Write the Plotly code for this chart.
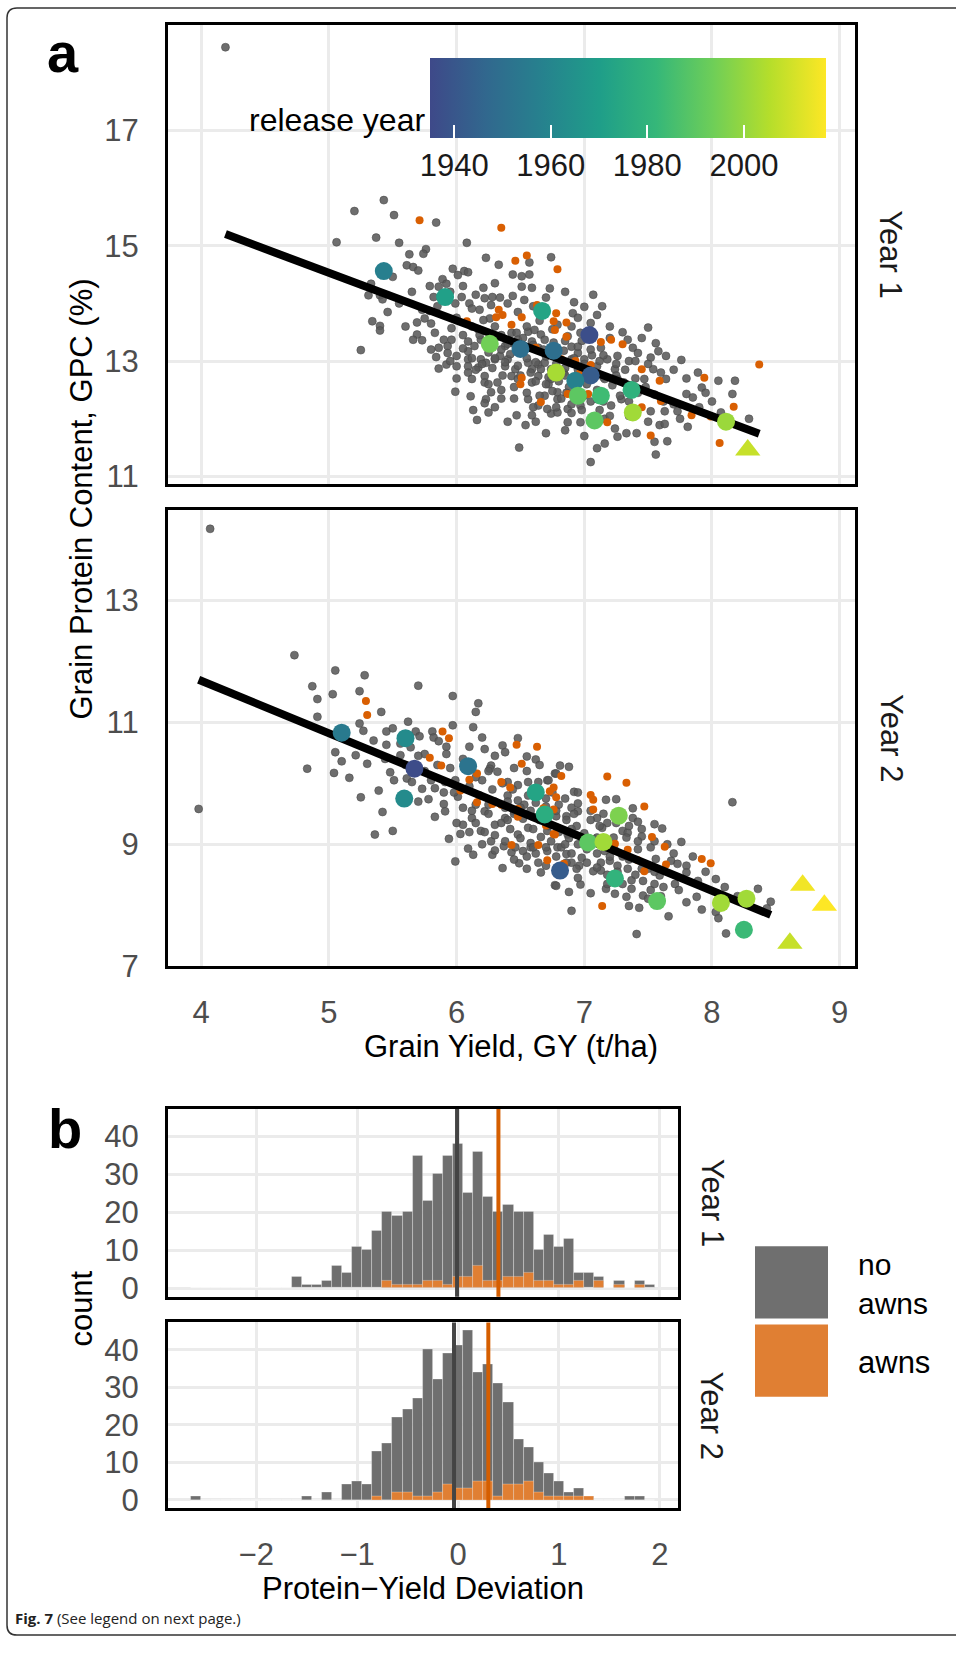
import plotly.graph_objects as go

W, H = 956, 1655
def px(x): return x / W
def py(y): return 1 - y / H

# ---------------- DATA ----------------
# Panel a, Year 1: no-awn lines (grain yield t/ha, grain protein %)
y1_gray = [
 (4.19,18.44),(5.43,15.79),(5.20,15.60),(5.51,15.53),(5.84,15.40),(5.37,15.14),(5.06,15.06),(5.55,15.05),
 (6.08,15.05),(5.76,14.94),(5.74,14.86),(5.63,14.85),(6.23,14.79),(6.33,14.67),(5.61,14.66),(5.66,14.63),
 (5.70,14.57),(5.97,14.60),(6.06,14.56),(6.09,14.54),(6.01,14.49),(5.50,14.46),(5.33,14.34),(5.89,14.42),
 (5.92,14.34),(5.79,14.30),(5.86,14.29),(6.21,14.27),(6.44,14.50),(6.51,14.47),(6.57,14.50),(6.51,14.29),
 (6.59,14.27),(6.74,14.80),(6.57,14.71),(5.31,14.14),(5.40,14.14),(5.42,14.07),(5.82,14.11),(6.04,14.11),
 (6.22,14.09),(6.28,14.11),(6.34,14.10),(6.44,14.13),(6.53,14.06),(6.10,14.00),(6.12,13.91),(6.27,13.97),
 (5.99,14.00),(5.73,13.89),(5.79,13.87),(5.46,13.85),(6.18,13.89),(6.26,13.74),(5.75,13.74),(5.69,13.67),
 (5.80,13.65),(5.34,13.69),(5.40,13.61),(5.40,13.53),(5.96,13.57),(5.83,13.49),(6.12,13.60),(6.17,13.55),
 (6.21,13.71),(6.43,13.49),(6.47,13.49),(6.56,13.51),(6.61,13.54),(6.66,13.46),(5.69,13.46),(5.66,13.37),
 (5.73,13.36),(5.90,13.37),(5.96,13.37),(5.93,13.26),(5.86,13.23),(6.09,13.34),(6.09,13.17),(6.14,13.26),
 (6.19,13.37),(6.38,13.26),(6.48,13.37),(6.59,13.34),(6.64,13.23),(6.69,13.37),(5.25,13.19),(5.84,13.07),
 (5.93,13.14),(6.00,13.09),(5.92,12.94),(5.86,12.87),(6.00,12.91),(6.09,13.03),(6.09,12.91),(6.19,13.03),
 (6.23,12.97),(6.30,13.03),(6.34,13.09),(6.40,13.03),(6.38,12.91),(6.46,12.86),(6.56,12.97),(6.59,12.86),
 (6.64,12.94),(6.69,12.97),(6.74,12.86),(6.09,12.80),(6.17,12.89),(6.22,12.74),(6.12,12.69),(6.32,12.63),
 (6.43,12.74),(6.48,12.69),(6.59,12.63),(6.64,12.74),(6.72,12.60),(6.22,12.63),(5.99,12.47),(6.27,12.46),
 (6.11,12.39),(6.23,12.34),(6.22,12.27),(6.35,12.35),(6.56,12.34),(6.64,12.23),(6.74,12.09),(6.13,12.15),
 (6.25,12.11),(6.16,11.98),(6.47,12.06),(6.59,12.06),(6.62,11.95),(6.54,11.89),(6.69,12.40),(6.49,11.50),
 (6.73,14.26),(6.92,14.02),(7.07,14.15),(7.14,13.95),(6.91,13.83),(7.00,13.94),(7.05,13.66),(6.90,13.60),
 (6.97,13.49),(6.79,13.63),(6.87,13.43),(7.13,13.23),(7.20,13.40),(7.26,13.09),(7.34,13.37),(7.38,13.23),
 (7.35,13.00),(7.18,13.03),(7.42,13.14),(7.50,13.58),(7.56,13.31),(7.58,13.17),(7.52,13.06),(7.64,13.09),
 (7.54,12.86),(7.47,12.69),(7.64,12.69),(7.76,13.02),(7.89,12.80),(7.92,12.54),(8.05,12.66),(8.18,12.66),
 (8.16,12.43),(7.80,12.43),(7.85,12.37),(7.73,12.13),(7.63,12.13),(7.52,12.13),(7.81,11.86),(7.59,11.89),
 (7.63,11.91),(8.07,12.11),(8.29,12.00),(7.24,11.83),(7.33,11.75),(7.41,11.75),(7.26,11.69),(7.55,11.60),
 (7.65,11.61),(7.16,11.57),(7.10,11.49),(7.56,11.38),(7.05,11.25),(6.97,11.94),(6.87,11.94),(6.79,12.11),
 (6.97,12.23),(6.79,12.34),(7.16,12.00),(7.21,12.23),(7.10,12.34),(7.29,12.34),(7.26,12.69),(7.31,12.63),
 (7.16,12.69),(7.10,12.91),(7.24,12.86),(7.00,13.03),(6.90,13.03),(6.95,13.14),(6.84,12.80),(6.74,12.69),
 (6.92,12.63),(6.87,12.17),(6.79,12.46),(6.71,12.17),
 (6.35,13.20),(6.42,13.12),(6.55,13.05),(6.62,12.98),(6.70,13.08),(6.78,12.95),(6.85,12.88),(6.48,12.92),
 (6.58,12.80),(6.66,12.86),(6.72,12.72),(6.80,12.65),(6.88,12.55),(6.95,12.70),(7.02,12.60),(7.10,12.50),
 (6.40,13.30),(6.30,13.40),(6.25,13.15),(6.18,13.45),(6.52,13.40),(6.60,13.28),(6.68,13.20),(6.76,13.32),
 (6.84,13.18),(6.92,13.05),(7.00,12.95),(7.08,12.82),(7.15,12.72),(7.22,12.58),(6.45,12.55),(6.55,12.45),
 (6.65,12.40),(6.75,12.48),(6.82,12.35),(6.90,12.25),(6.98,12.15),(7.05,12.30),(7.12,12.15),(7.20,12.05),
 (6.36,12.75),(6.28,12.88),(6.20,12.95),(6.12,13.05),(6.05,13.22),(7.28,12.40),(7.35,12.30),(7.42,12.45),
 (7.48,12.55),(7.55,12.42),(7.62,12.30),(7.70,12.25),(6.90,13.25),(6.98,13.35),(7.06,13.10),(7.12,13.00),
 (6.95,12.85),(6.70,12.60),(6.62,12.65),(6.50,12.75),(6.38,12.98),(6.30,13.05),(6.86,12.45),(6.78,12.20),
 (7.25,12.75),(7.32,12.85),
 (5.95,14.20),(6.05,14.30),(6.15,14.15),(6.30,14.35),(6.40,14.00),(6.48,13.85),(6.60,13.95),(6.70,14.10),
 (6.85,14.20),(6.95,13.75),(7.10,13.80),(7.20,13.60),(7.30,13.50),(7.45,13.40),(7.40,13.00),(7.50,12.95),
 (7.60,12.80),(7.70,12.85),(7.80,12.70),(7.95,12.45),(8.00,12.30),(7.90,12.20),(7.75,12.00),(7.50,11.95),
 (7.35,12.05),(7.00,11.70),(6.85,11.80),(6.70,11.75),(6.40,11.95),(6.30,12.20),(6.00,12.70),(5.95,13.00),
 (5.80,13.20),(5.60,13.60),(5.55,14.00),(5.65,14.20),(5.85,13.95),(6.00,13.75),(6.30,13.60),(6.35,13.45),
 (6.45,13.30),(6.55,13.60),(6.65,13.70),(6.75,13.55),(6.85,13.35),(6.95,13.25),(7.05,13.20),(7.15,13.10),
 (7.25,12.95),(7.40,12.70),(7.15,12.30),(7.00,12.40),(6.90,12.10),(6.60,12.20),(6.45,12.35),(6.35,12.50),
 (6.25,12.60),(6.15,12.85),(6.05,13.45),(6.85,12.75),
]
# Panel a, Year 1: awned lines
y1_awn = [
 (5.71,15.44),(6.35,15.31),(6.46,14.74),(6.55,14.83),(6.33,13.89),(6.31,13.76),(6.36,13.80),(6.51,13.76),
 (6.43,13.63),(6.08,13.69),(6.62,13.23),(6.51,12.71),(6.50,12.60),(6.66,12.29),(6.63,13.97),(6.76,13.69),
 (6.77,13.54),(6.78,13.83),(6.79,14.59),(6.86,13.67),(6.86,13.42),(7.13,13.33),(7.21,13.37),(7.30,13.29),
 (6.82,13.03),(6.93,13.00),(7.05,12.93),(6.97,12.80),(6.87,12.43),(7.45,12.86),(7.59,12.66),(7.45,12.20),
 (7.60,12.31),(7.94,12.71),(8.17,12.21),(7.84,12.06),(7.99,12.04),(7.18,11.94),(7.52,11.71),(8.06,11.58),
 (8.37,12.94),(7.03,12.43),
]
# Panel a, Year 1: historic varieties (yield, protein, release year)
y1_hist = [
 (5.43,14.56,1957),(5.91,14.11,1971),(6.67,13.87,1973),(7.04,13.45,1937),(6.26,13.30,1994),
 (6.50,13.21,1950),(6.76,13.18,1950),(6.78,12.80,2003),(7.05,12.75,1942),(6.93,12.66,1958),
 (6.95,12.40,1990),(7.13,12.40,1984),(7.37,12.50,1979),(7.38,12.11,2002),(7.08,11.97,1990),
 (8.11,11.95,2001),
]
y1_hist_tri = [(8.28,11.46,2008)]

# Panel a, Year 2
y2_gray = [
 (3.98,9.58),(4.07,14.17),(4.73,12.10),(5.05,11.85),(5.28,11.77),(4.87,11.59),(5.03,11.46),(4.91,11.38),
 (5.24,11.51),(5.41,11.17),(5.70,11.60),(5.97,11.43),(6.17,11.31),(6.15,11.17),(4.91,11.09),(5.24,10.98),
 (5.27,10.86),(5.45,10.85),(5.62,11.01),(5.68,10.85),(5.71,10.77),(5.81,10.85),(5.82,10.75),(5.86,10.69),
 (5.92,10.60),(5.97,10.95),(6.13,10.92),(5.45,10.63),(5.56,10.65),(5.64,10.59),(5.05,10.51),(5.10,10.36),
 (5.21,10.46),(5.30,10.32),(5.44,10.40),(5.56,10.46),(5.75,10.48),(5.92,10.48),(4.83,10.24),(5.04,10.17),
 (5.16,10.09),(5.48,10.18),(5.51,10.05),(5.61,10.08),(5.65,10.02),(5.73,9.91),(5.78,9.74),(5.70,9.70),
 (5.83,9.92),(5.91,10.02),(5.99,10.05),(6.01,9.78),(5.91,9.54),(5.83,9.45),(5.90,9.66),(5.25,9.77),
 (5.39,9.88),(5.42,9.53),(5.36,9.16),(5.50,9.22),(5.99,8.72),(5.94,9.09),(6.03,9.17),(6.09,8.93),
 (6.13,8.83),(6.05,9.32),(6.12,9.43),(6.15,9.65),(6.22,9.54),(6.19,9.22),(6.27,9.05),(6.28,8.83),
 (6.36,8.61),(6.37,8.97),(6.30,9.32),(6.38,9.43),(6.45,9.54),(6.53,9.65),(6.48,9.16),(6.43,8.87),
 (6.49,8.69),(6.52,8.89),(6.58,8.95),(6.64,8.70),(6.66,8.54),(6.56,9.27),(6.48,9.97),(6.56,10.02),
 (6.64,10.02),(6.71,10.05),(6.40,10.02),(6.32,10.19),(6.27,10.29),(6.22,10.56),(6.36,10.62),(6.38,10.51),
 (6.48,10.74),(6.55,10.44),(6.62,10.39),(6.26,10.24),(6.77,10.16),(6.77,8.33),
 (6.81,10.29),(6.88,10.27),(6.78,10.16),(6.72,10.05),(6.92,9.86),(6.90,9.60),(6.95,9.67),(6.95,9.54),
 (6.86,9.46),(6.78,9.46),(6.71,9.22),(6.79,9.27),(6.87,9.16),(6.79,8.95),(6.71,8.89),(6.86,8.84),
 (6.90,8.70),(6.96,8.65),(6.97,8.34),(6.78,8.32),(6.88,8.22),(6.90,7.91),(7.07,8.56),(7.10,9.43),
 (7.17,9.73),(7.25,9.74),(7.18,9.35),(7.14,9.27),(7.10,9.11),(7.16,8.89),(7.13,8.70),(7.20,8.73),
 (7.26,8.65),(7.13,8.57),(7.17,8.27),(7.18,8.35),(7.23,9.11),(7.30,9.22),(7.34,9.19),(7.33,9.11),
 (7.38,9.59),(7.38,9.43),(7.42,9.37),(7.45,9.13),(7.42,9.05),(7.42,8.92),(7.37,8.41),(7.37,8.27),
 (7.33,8.14),(7.35,7.99),(7.43,7.96),(7.41,7.53),(7.46,8.16),(7.52,8.25),(7.50,8.11),(7.55,9.33),
 (7.61,9.26),(7.52,8.95),(7.56,8.76),(7.59,8.49),(7.68,8.73),(7.73,8.68),(7.80,8.65),(7.76,9.04),
 (7.80,8.54),(7.71,8.35),(7.74,8.25),(7.89,8.40),(8.03,8.43),(7.88,8.14),(7.92,7.93),(8.03,7.89),
 (8.05,7.79),(8.11,7.54),(7.66,7.82),(8.36,8.27),(8.46,8.06),(8.43,7.95),(8.16,9.69),(7.24,8.19),
 (6.30,9.70),(6.38,9.60),(6.45,9.50),(6.52,9.42),(6.58,9.55),(6.65,9.40),(6.72,9.30),(6.80,9.20),
 (6.88,9.10),(6.95,9.00),(7.02,8.92),(7.10,8.85),(6.35,9.35),(6.42,9.25),(6.50,9.10),(6.58,9.02),
 (6.66,9.12),(6.74,9.05),(6.82,8.95),(6.90,8.85),(6.98,8.78),(6.40,9.80),(6.48,9.72),(6.56,9.80),
 (6.62,9.68),(6.70,9.62),(6.78,9.55),(6.86,9.40),(6.94,9.30),(7.00,9.18),(7.08,9.08),(7.16,9.00),
 (7.24,8.90),(7.30,8.80),(6.25,9.50),(6.18,9.80),(6.10,9.95),(6.20,10.05),(6.28,9.90),(6.36,10.00),
 (6.44,9.90),(6.15,9.35),(6.22,9.20),(6.30,9.15),(6.38,9.05),(6.46,8.95),(6.55,8.80),(6.62,8.85),
 (6.70,8.95),(6.78,8.80),(6.86,8.70),(6.94,8.60),(7.02,8.70),(7.10,8.62),(7.18,8.50),(7.26,8.55),
 (7.34,8.60),(7.40,8.50),(7.46,8.40),(7.55,8.35),(7.62,8.30),(7.50,8.60),(6.05,9.60),(5.98,9.85),
 (6.12,9.55),(6.60,9.25),(6.68,9.50),(6.92,9.50),(7.05,9.40),(7.12,9.30),
 (5.35,10.70),(5.50,10.90),(5.60,10.30),(5.75,10.20),(5.85,10.30),(5.95,10.25),(6.05,10.40),(6.10,10.60),
 (6.20,10.75),(6.30,10.45),(6.45,10.25),(6.55,10.20),(6.65,10.30),(6.75,9.85),(6.85,9.75),(6.95,9.85),
 (7.05,9.55),(7.15,9.50),(7.25,9.35),(7.35,9.30),(7.45,9.25),(7.55,9.05),(7.65,9.00),(7.70,8.85),
 (7.85,8.80),(7.95,8.55),(8.10,8.30),(8.20,8.15),(7.80,8.05),(7.60,8.15),(7.45,8.60),(7.30,8.35),
 (7.05,8.20),(6.95,8.45),(6.70,8.65),(6.55,8.60),(6.45,8.75),(6.30,8.90),(6.20,9.00),(6.10,9.20),
 (6.00,9.35),(5.90,9.85),(5.80,10.05),(5.70,10.45),(6.15,10.10),(6.25,10.20),(6.40,9.70),(6.50,9.60),
 (6.60,9.45),(6.70,9.75),(6.80,9.65),(6.90,9.25),(7.00,9.05),(7.20,8.80),(7.35,8.75),(7.55,8.55),
 (6.60,8.95),(6.85,9.00),(6.40,9.40),(6.25,9.65),
]
y2_awn = [
 (5.29,11.35),(5.30,11.12),(5.89,10.85),(5.94,10.74),(5.79,10.42),(5.88,10.29),(6.03,9.88),(6.16,10.16),
 (6.10,10.06),(6.16,9.69),(6.28,9.66),(6.35,9.65),(6.35,10.02),(6.42,9.93),(6.47,10.63),(6.51,10.32),
 (6.63,10.60),(6.48,9.58),(6.48,9.45),(6.43,8.99),(6.64,8.99),(6.71,8.74),(6.73,9.87),(6.70,9.31),
 (6.77,9.16),(6.68,9.59),(6.82,10.12),(6.76,9.93),(6.78,9.77),(6.76,9.57),(6.76,9.17),(7.18,10.11),
 (7.33,10.01),(7.05,9.81),(7.07,9.73),(7.07,9.57),(7.47,9.62),(7.24,9.01),(7.34,8.91),(7.53,9.12),
 (7.63,8.96),(7.42,8.74),(7.47,8.56),(7.64,8.67),(7.92,8.76),(7.99,8.69),(7.14,7.99),(6.84,8.68),
]
y2_hist = [
 (5.10,10.83,1955),(5.60,10.74,1962),(5.67,10.24,1936),(6.09,10.28,1952),(5.59,9.75,1962),
 (6.62,9.85,1973),(6.69,9.49,1977),(7.27,9.47,1996),(7.03,9.03,1990),(7.15,9.04,2002),
 (6.81,8.57,1942),(7.24,8.44,1980),(7.57,8.07,1990),(8.07,8.04,2002),(8.27,8.11,2002),
 (8.25,7.60,1983),
]
y2_hist_tri = [(8.71,8.33,2015),(8.88,8.00,2017),(8.61,7.38,2008)]

# Linear fits (GPC = intercept + slope * GY), one per year
fit_intercept = [18.67, 15.12]
fit_slope = [-0.828, -0.86]

# Panel b: protein-yield deviation histograms (bin centers, binwidth 0.1)
bin_centers = [-2.6,-2.5,-2.4,-2.3,-2.2,-2.1,-2.0,-1.9,-1.8,-1.7,-1.6,-1.5,-1.4,-1.3,-1.2,-1.1,
               -1.0,-0.9,-0.8,-0.7,-0.6,-0.5,-0.4,-0.3,-0.2,-0.1,0.0,0.1,0.2,0.3,0.4,0.5,
               0.6,0.7,0.8,0.9,1.0,1.1,1.2,1.3,1.4,1.5,1.6,1.7,1.8,1.9]
y1_total = [0,0,0,0,0,0,0,0,0,0,3,1,1,2,6,4,11,10,15,20,19,20,35,23,30,35,38,25,36,24,20,22,
            20,20,10,14,11,13,4,4,3,0,2,0,2,1]
y1_awns  = [0,0,0,0,0,0,0,0,0,0,0,0,0,0,0,0,0,0,0,2,1,1,1,2,2,1,3,3,6,2,2,3,
            3,4,2,2,1,1,2,0,2,0,1,0,1,0]
y2_total = [1,0,0,0,0,0,0,0,0,0,0,1,0,2,0,4,5,4,13,15,22,24,27,40,32,39,41,45,34,36,31,26,
            16,14,10,7,5,2,3,1,0,0,0,1,1,0]
y2_awns  = [0,0,0,0,0,0,0,0,0,0,0,0,0,0,0,0,0,0,1,0,2,2,1,1,2,4,3,3,5,5,1,4,
            4,5,2,1,1,1,1,1,0,0,0,0,0,0]
mean_no_awns = [-0.01, -0.04]
mean_awns = [0.40, 0.30]

# colour scale limits (release year)
year_min, year_max = 1935, 2017
cbar_ticks = [1940, 1960, 1980, 2000]

# ---------------- STYLE ----------------
FONT = "Liberation Sans, Arial, Helvetica, sans-serif"
GRAY_PT = "rgba(90,90,90,0.88)"
ORANGE_PT = "#D95F02"
BAR_GRAY = "#6f6f6f"
BAR_ORANGE = "#E07F33"
GRID = "#ebebeb"
VIRIDIS = ['#3e4989', '#31688e', '#26828e', '#1f9e89', '#35b779', '#6ece58', '#b5de2b', '#fde725']
cscale = [[i / (len(VIRIDIS) - 1), c] for i, c in enumerate(VIRIDIS)]

fig = go.Figure()

def unzip(pts, k):
    return [p[k] for p in pts]

panels = [("x", "y", y1_gray, y1_awn, y1_hist, y1_hist_tri, 0),
          ("x2", "y2", y2_gray, y2_awn, y2_hist, y2_hist_tri, 1)]
for xa, ya, gray, awn, hist, tri, i in panels:
    fig.add_trace(go.Scatter(x=unzip(gray, 0), y=unzip(gray, 1), mode="markers", xaxis=xa, yaxis=ya,
                             marker=dict(size=8, color=GRAY_PT, line=dict(width=0.6, color="rgba(70,70,70,0.9)")),
                             showlegend=False, hoverinfo="skip"))
    fig.add_trace(go.Scatter(x=unzip(awn, 0), y=unzip(awn, 1), mode="markers", xaxis=xa, yaxis=ya,
                             marker=dict(size=8, color=ORANGE_PT), showlegend=False, hoverinfo="skip"))
    allx = unzip(gray, 0) + unzip(awn, 0)
    lx = [min(allx), max(allx)]
    ly = [fit_intercept[i] + fit_slope[i] * v for v in lx]
    fig.add_trace(go.Scatter(x=lx, y=ly, mode="lines", xaxis=xa, yaxis=ya,
                             line=dict(color="black", width=8), showlegend=False, hoverinfo="skip"))
    fig.add_trace(go.Scatter(x=unzip(hist, 0), y=unzip(hist, 1), mode="markers", xaxis=xa, yaxis=ya,
                             marker=dict(size=18, color=unzip(hist, 2), coloraxis="coloraxis"),
                             showlegend=False, hoverinfo="skip"))
    fig.add_trace(go.Scatter(x=unzip(tri, 0), y=unzip(tri, 1), mode="markers", xaxis=xa, yaxis=ya,
                             marker=dict(size=22, symbol="triangle-up", color=unzip(tri, 2), coloraxis="coloraxis"),
                             showlegend=False, hoverinfo="skip"))

hists = [("x3", "y3", y1_total, y1_awns, 0), ("x4", "y4", y2_total, y2_awns, 1)]
for xa, ya, tot, aw, i in hists:
    fig.add_trace(go.Bar(x=bin_centers, y=tot, width=0.1, xaxis=xa, yaxis=ya,
                         marker=dict(color=BAR_GRAY, line=dict(color="rgba(255,255,255,0.35)", width=0.8)),
                         showlegend=False, hoverinfo="skip"))
    fig.add_trace(go.Bar(x=bin_centers, y=aw, width=0.1, xaxis=xa, yaxis=ya,
                         marker=dict(color=BAR_ORANGE, line=dict(color="rgba(255,255,255,0.35)", width=0.8)),
                         showlegend=False, hoverinfo="skip"))
    fig.add_trace(go.Scatter(x=[mean_no_awns[i]] * 2, y=[-10, 100], mode="lines", xaxis=xa, yaxis=ya,
                             line=dict(color="#444444", width=4), showlegend=False, hoverinfo="skip"))
    fig.add_trace(go.Scatter(x=[mean_awns[i]] * 2, y=[-10, 100], mode="lines", xaxis=xa, yaxis=ya,
                             line=dict(color="#D55E00", width=4), showlegend=False, hoverinfo="skip"))

tickfont = dict(family=FONT, size=31, color="#4d4d4d")
def axis(domain, rng, tickvals, labels, ticktext=None, anchor=None, ticklen=19):
    d = dict(domain=domain, range=rng, tickvals=tickvals, showgrid=True, gridcolor=GRID, gridwidth=3,
             zeroline=False, showline=True, mirror=True, linecolor="black", linewidth=3,
             showticklabels=labels, tickfont=tickfont, anchor=anchor, fixedrange=True)
    if labels:
        d.update(ticks="outside", ticklen=ticklen, tickcolor="rgba(0,0,0,0)")
    else:
        d.update(ticks="")
    if ticktext is not None:
        d["ticktext"] = ticktext
    return d

xa_dom = [px(168), px(855)]
xb_dom = [px(168), px(678)]
xr = [3.74, 9.12]
br = [-2.875, 2.18]
fig.update_layout(
    xaxis=axis(xa_dom, xr, [4, 5, 6, 7, 8, 9], False, anchor="y"),
    yaxis=axis([py(489), py(25)], [10.875, 18.83], [11, 13, 15, 17], True, anchor="x", ticklen=20),
    xaxis2=axis(xa_dom, xr, [4, 5, 6, 7, 8, 9], True, anchor="y2", ticklen=16),
    yaxis2=axis([py(977), py(515.5)], [7.0, 14.48], [7, 9, 11, 13], True, anchor="x2", ticklen=20),
    xaxis3=axis(xb_dom, br, [-2, -1, 0, 1, 2], False, anchor="y3"),
    yaxis3=axis([py(1311), py(1121)], [-2.25, 47.25], [0, 10, 20, 30, 40], True, anchor="x3", ticklen=20),
    xaxis4=axis(xb_dom, br, [-2, -1, 0, 1, 2], True, ticktext=["\u22122", "\u22121", "0", "1", "2"],
                anchor="y4", ticklen=16),
    yaxis4=axis([py(1525), py(1337)], [-2.25, 47.25], [0, 10, 20, 30, 40], True, anchor="x4", ticklen=20),
)

cb_left, cb_right = 430, 826
cb_top, cb_thick = 59, 80
fig.update_layout(
    coloraxis=dict(colorscale=cscale, cmin=year_min, cmax=year_max,
                   colorbar=dict(orientation="h", x=px((cb_left + cb_right) / 2), xanchor="center",
                                 y=py(cb_top), yanchor="top", len=cb_right - cb_left, lenmode="pixels",
                                 thickness=cb_thick, thicknessmode="pixels", xpad=0, ypad=0, outlinewidth=0,
                                 tickvals=cbar_ticks, ticks="inside", ticklen=13, tickwidth=2,
                                 tickcolor="white", tickfont=dict(family=FONT, size=31, color="#1a1a1a"))),
)

shapes = []
# white tick marks at the top edge of the colour bar
for t in cbar_ticks:
    xx = cb_left + (t - year_min) / (year_max - year_min) * (cb_right - cb_left)
    shapes.append(dict(type="line", xref="paper", yref="paper", x0=px(xx), x1=px(xx), y0=py(cb_top),
                       y1=py(cb_top + 13), line=dict(color="white", width=2), layer="above"))
# legend keys
shapes.append(dict(type="rect", xref="paper", yref="paper", x0=px(755), x1=px(828), y0=py(1333), y1=py(1260),
                   fillcolor=BAR_GRAY, line=dict(width=0)))
shapes.append(dict(type="rect", xref="paper", yref="paper", x0=px(755), x1=px(828), y0=py(1412), y1=py(1339),
                   fillcolor=BAR_ORANGE, line=dict(width=0)))
# page frame
r = 10
path = (f"M {px(990)},{py(8)} L {px(7 + r)},{py(8)} Q {px(7)},{py(8)} {px(7)},{py(8 + r)} "
        f"L {px(7)},{py(1653 - r)} Q {px(7)},{py(1653)} {px(7 + r)},{py(1653)} L {px(990)},{py(1653)}")
shapes.append(dict(type="path", xref="paper", yref="paper", path=path, line=dict(color="#333333", width=1.5)))
fig.update_layout(shapes=shapes)

def ann(text, x, y, size=31, color="black", angle=0, xanchor="center", yanchor="middle", family=FONT,
        align="center"):
    return dict(text=text, x=px(x), y=py(y), xref="paper", yref="paper", showarrow=False, textangle=angle,
                xanchor=xanchor, yanchor=yanchor, align=align, font=dict(family=family, size=size, color=color))

anns = [
    ann("<b>a</b>", 45, 53, size=56, xanchor="left"),
    ann("<b>b</b>", 46, 1141, size=56, xanchor="left"),
    ann("Year 1", 891, 257, color="#1a1a1a", angle=90),
    ann("Year 2", 891, 746, color="#1a1a1a", angle=90),
    ann("Year 1", 712, 1216, color="#1a1a1a", angle=90),
    ann("Year 2", 712, 1431, color="#1a1a1a", angle=90),
    ann("Grain Protein Content, GPC (%)", 82, 505, angle=-90),
    ann("Grain Yield, GY (t/ha)", 511, 1058),
    ann("count", 82, 1323, angle=-90),
    ann("Protein\u2212Yield Deviation", 423, 1606),
    ann("release year", 427, 121, size=32, xanchor="right"),
    ann("no<br>awns", 856, 1298, size=30, xanchor="left", align="left"),
    ann("awns", 856, 1377, xanchor="left", align="left"),
    ann("<b>Fig. 7</b> (See legend on next page.)", 13, 1636, size=15, xanchor="left", align="left",
        family="Liberation Sans Narrow, Open Sans, sans-serif", color="#222222"),
]
fig.update_layout(annotations=anns)

fig.update_layout(width=W, height=H, margin=dict(l=0, r=0, t=0, b=0), paper_bgcolor="white",
                  plot_bgcolor="white", barmode="overlay", bargap=0, showlegend=False,
                  font=dict(family=FONT))
fig.write_html("out.html", config={"displayModeBar": False},
               post_script="document.body.style.margin='0px';")
